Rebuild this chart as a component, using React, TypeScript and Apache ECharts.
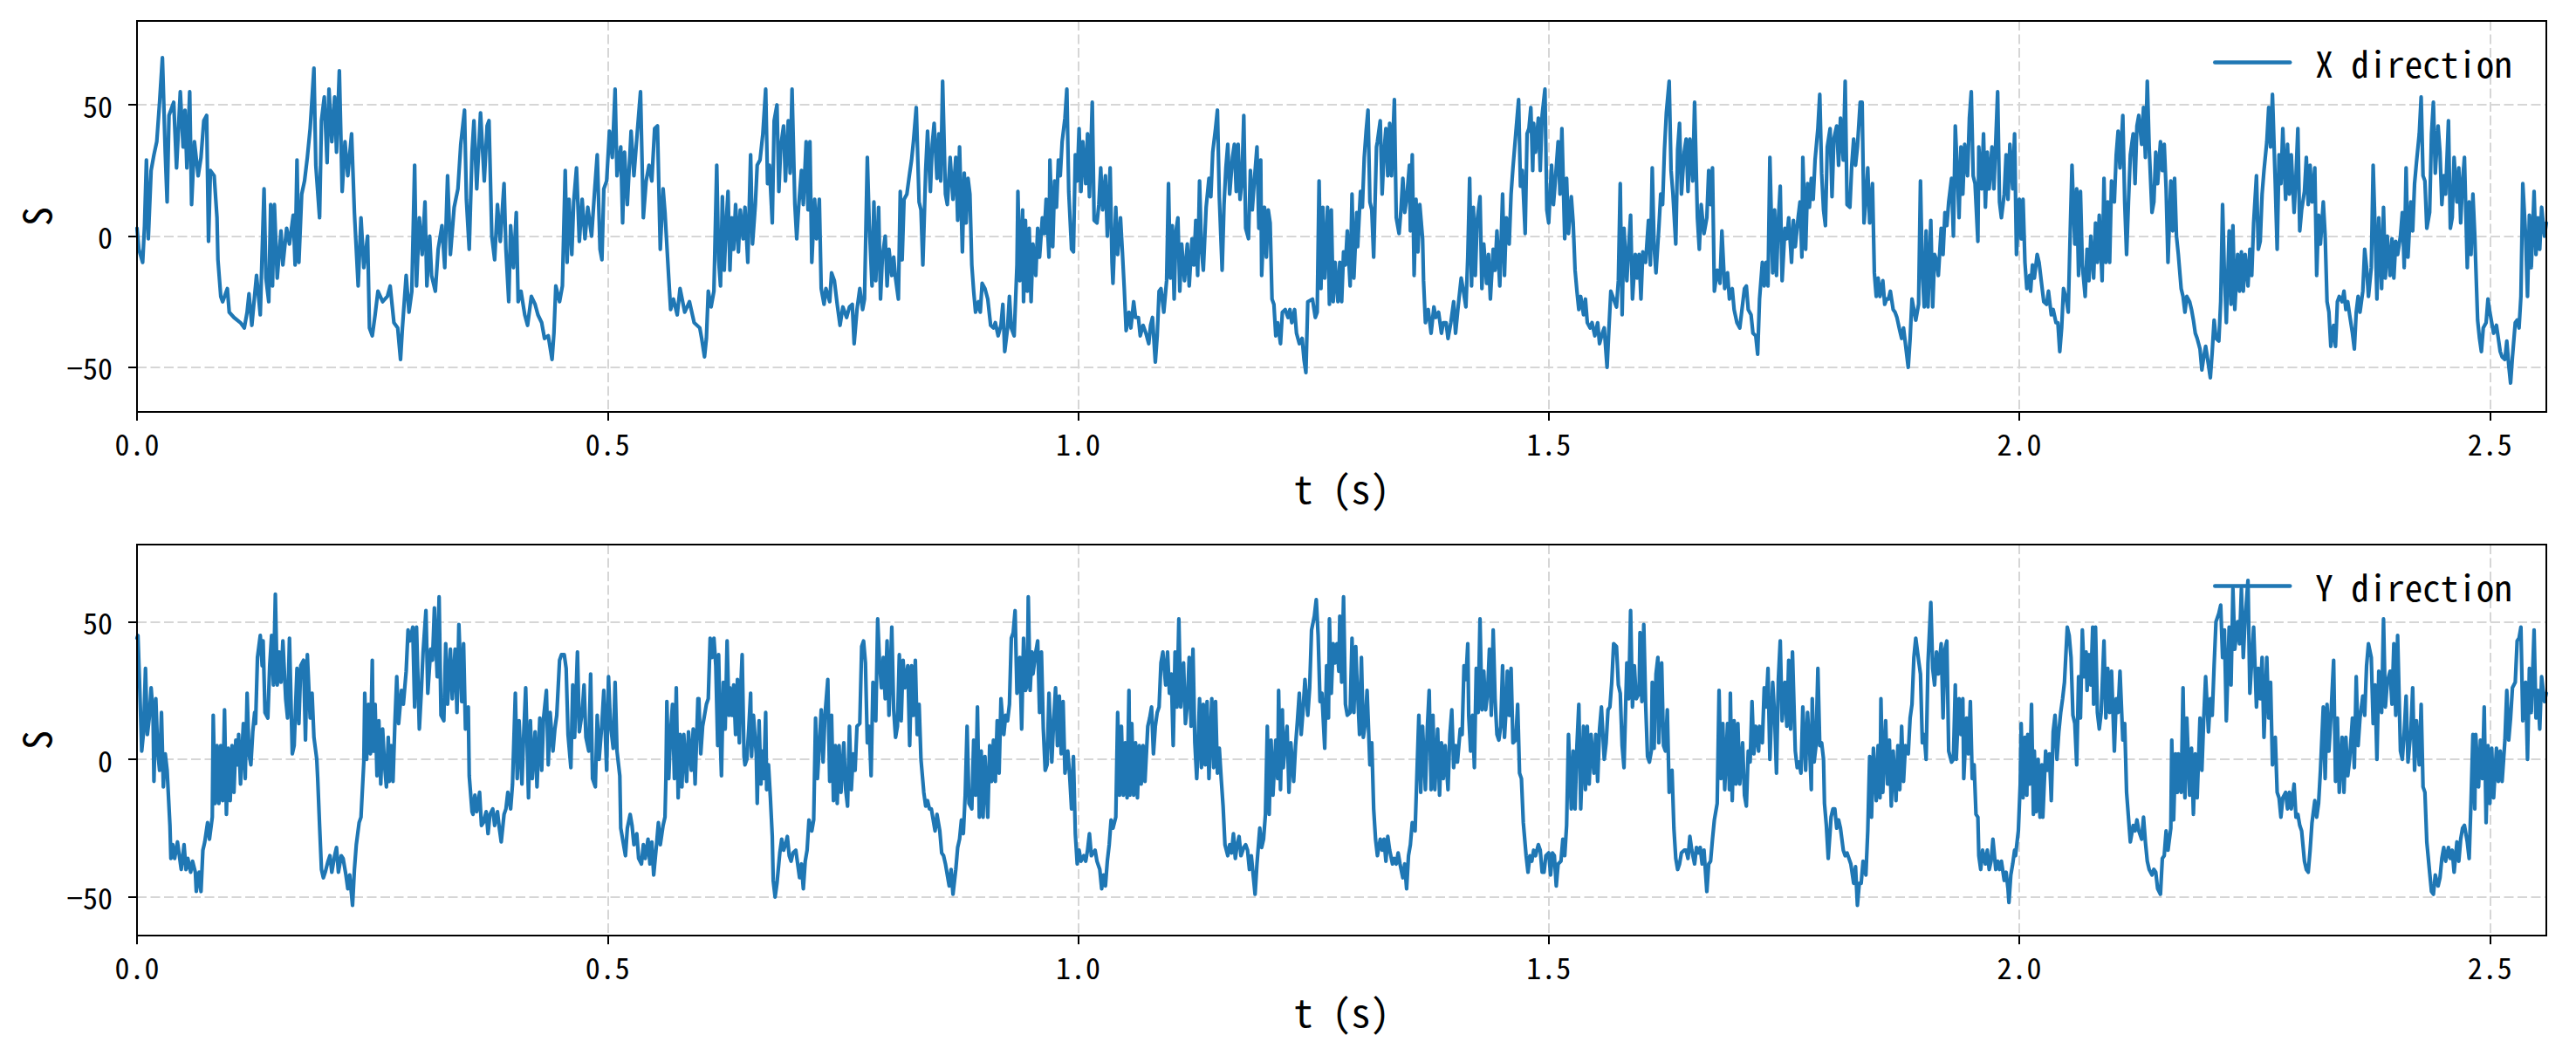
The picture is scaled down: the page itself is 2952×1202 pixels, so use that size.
import React, { useEffect, useRef } from "react";
import * as echarts from "echarts";

type P = [number, number];

// ---- axis / label content ----
const T_TICKS = [0, 0.5, 1, 1.5, 2, 2.5];
const S_TICKS = [-50, 0, 50];
const T_MAX = 2.56;
const X_RANGE = [-67, 82];
const Y_RANGE = [-64, 78];
const NAME_X = "X direction";
const NAME_Y = "Y direction";
const AXIS_T = "t (s)";
const AXIS_S = "S";

// ---- X direction signal: [t (s), S] ----
const xSeg1: P[] = [[0,3],[0.002,-5],[0.006,-10],[0.008,4],[0.010,29],[0.012,-1],[0.015,25],[0.018,31],[0.021,36],[0.024,51],[0.027,68],[0.030,32],[0.032,13],[0.034,46],[0.039,51],[0.042,26],[0.046,55],[0.049,34],[0.051,48],[0.053,26],[0.056,55],[0.058,12],[0.061,36],[0.065,23],[0.068,30],[0.071,44],[0.074,46],[0.076,-2],[0.078,25],[0.082,23],[0.085,7],[0.086,-9],[0.089,-23],[0.091,-25],[0.096,-20],[0.098,-29],[0.103,-31],[0.110,-33],[0.114,-35],[0.117,-29],[0.119,-22],[0.122,-34],[0.127,-15],[0.131,-30],[0.135,18],[0.137,-16],[0.140,-25],[0.142,12],[0.144,-19],[0.146,12],[0.149,-16],[0.153,2],[0.155,-11],[0.159,3],[0.162,-3],[0.166,8],[0.168,-11],[0.170,29],[0.172,-10],[0.175,16],[0.178,21],[0.181,30],[0.184,41],[0.188,64],[0.190,27],[0.194,7],[0.196,44],[0.199,53],[0.202,28],[0.204,56],[0.207,36],[0.210,53],[0.212,32],[0.215,63],[0.218,17],[0.221,36],[0.224,23],[0.228,39],[0.231,9],[0.235,-19],[0.238,7],[0.241,-12],[0.245,0],[0.247,-35],[0.250,-38],[0.253,-30],[0.256,-21],[0.261,-25],[0.266,-23],[0.269,-19],[0.273,-33],[0.277,-35],[0.280,-47],[0.282,-35],[0.286,-15],[0.289,-29],[0.292,-21],[0.295,27],[0.297,-19],[0.300,7],[0.303,-7],[0.306,13],[0.308,-19],[0.311,0],[0.313,-15],[0.317,-21],[0.320,-5],[0.324,4],[0.327,-12],[0.330,23],[0.333,-7],[0.337,11],[0.341,18],[0.344,35],[0.348,48],[0.350,14],[0.353,-5],[0.356,32],[0.358,44],[0.361,18],[0.365,47],[0.369,21],[0.372,42],[0.374,44],[0.377,0],[0.380,-9],[0.383,12],[0.386,-2],[0.390,20],[0.392,-5],[0.395,-25],[0.397,4],[0.400,-12],[0.403,9],[0.405,-25],[0.408,-21],[0.412,-30],[0.415,-34],[0.419,-23],[0.423,-26],[0.426,-30],[0.430,-33],[0.433,-39],[0.437,-38],[0.441,-47],[0.443,-37],[0.445,-19],[0.449,-25],[0.452,-19],[0.455,25],[0.457,-10],[0.459,14],[0.462,-7],[0.464,13],[0.467,26],[0.470,-2],[0.473,14],[0.476,-1],[0.479,11],[0.483,0],[0.486,16],[0.489,31],[0.492,-5],[0.494,-9],[0.496,18],[0.499,21],[0.502,40],[0.505,30],[0.508,56],[0.510,23],[0.514,34],[0.516,5],[0.518,32],[0.521,12],[0.525,40],[0.528,23],[0.531,37],[0.535,55],[0.538,7],[0.541,21],[0.544,27],[0.547,21],[0.550,41],[0.553,42],[0.556,-5],[0.559,18],[0.561,9],[0.565,-16],[0.567,-28],[0.570,-24],[0.574,-30],[0.577,-20],[0.582,-29],[0.587,-25],[0.592,-33]];
const xSeg2: P[] = [[0.598,-35],[0.600,-39],[0.603,-46],[0.605,-39],[0.607,-21],[0.610,-27],[0.613,-21],[0.616,27],[0.618,-9],[0.620,-19],[0.622,15],[0.624,-13],[0.626,5],[0.628,17],[0.630,-13],[0.632,7],[0.634,-5],[0.636,12],[0.639,-6],[0.641,10],[0.644,-1],[0.646,11],[0.649,-10],[0.652,31],[0.654,-3],[0.657,12],[0.659,27],[0.662,29],[0.665,39],[0.668,56],[0.670,20],[0.672,27],[0.675,5],[0.677,44],[0.680,50],[0.682,17],[0.684,34],[0.687,42],[0.689,21],[0.692,44],[0.694,24],[0.696,56],[0.699,12],[0.701,-1],[0.703,11],[0.706,25],[0.708,12],[0.711,36],[0.713,10],[0.715,36],[0.717,-10],[0.720,14],[0.722,-1],[0.725,14],[0.727,-20],[0.730,-26],[0.732,-20],[0.736,-25],[0.738,-14],[0.741,-17],[0.744,-26],[0.747,-34],[0.750,-27],[0.754,-31],[0.757,-27],[0.760,-26],[0.762,-41],[0.765,-28],[0.768,-20],[0.771,-28],[0.773,-24],[0.776,30],[0.778,5],[0.781,-19],[0.783,13],[0.785,-17],[0.788,11],[0.790,-24],[0.792,-8],[0.795,0],[0.797,-19],[0.799,-5],[0.802,-15],[0.804,-8],[0.806,-16],[0.809,-24],[0.811,17],[0.813,-9],[0.815,14],[0.818,16],[0.821,24],[0.823,29],[0.825,36],[0.828,49],[0.831,13],[0.833,10],[0.835,-11],[0.838,25],[0.840,40],[0.843,17],[0.845,35],[0.847,43],[0.850,22],[0.852,39],[0.854,21],[0.856,59],[0.859,16],[0.861,12],[0.864,30],[0.867,14],[0.870,30],[0.872,6],[0.874,34],[0.877,-6],[0.879,24],[0.881,5],[0.883,22],[0.885,16],[0.887,-11],[0.889,-21],[0.891,-29],[0.894,-25],[0.896,-29],[0.898,-18],[0.901,-20],[0.904,-24],[0.907,-34],[0.910,-35],[0.912,-33],[0.915,-38],[0.918,-34],[0.920,-26],[0.922,-44],[0.925,-35],[0.927,-23],[0.929,-35],[0.932,-38],[0.935,-11],[0.936,17],[0.938,-17],[0.941,10],[0.942,-25],[0.944,6],[0.946,-21],[0.948,3],[0.950,-25],[0.952,-3],[0.955,-15],[0.957,3],[0.959,-8],[0.962,7],[0.964,1],[0.966,14],[0.969,-8],[0.970,29],[0.973,-4],[0.975,21],[0.977,11],[0.979,29],[0.981,23],[0.983,36],[0.986,45],[0.988,56],[0.990,17],[0.993,-5],[0.995,-6],[0.997,31],[0.999,21],[1.001,41],[1.003,17],[1.005,36],[1.008,20],[1.010,39],[1.012,15],[1.015,51],[1.017,6],[1.020,5],[1.022,12],[1.024,26],[1.026,10],[1.029,23],[1.031,0],[1.034,26],[1.036,-10],[1.037,-18],[1.040,11],[1.042,-7],[1.045,7],[1.047,-6],[1.049,-20],[1.051,-36],[1.054,-29],[1.056,-35],[1.059,-25],[1.061,-31],[1.064,-31],[1.066,-38],[1.069,-34],[1.072,-37],[1.075,-41],[1.077,-34],[1.079,-31],[1.082,-48],[1.084,-38],[1.086,-21],[1.088,-20],[1.091,-29],[1.094,-17],[1.096,20],[1.098,-16],[1.100,4],[1.102,-24],[1.104,2],[1.106,7],[1.108,-21],[1.110,-3],[1.113,-17],[1.116,-3],[1.118,-19],[1.121,-1],[1.123,-11],[1.125,6],[1.127,-15],[1.129,21],[1.131,-5],[1.133,-13],[1.136,11],[1.139,22],[1.141,15],[1.143,32],[1.146,41],[1.148,48],[1.150,15],[1.153,-13],[1.155,12],[1.157,26],[1.159,35],[1.161,16],[1.164,30],[1.166,35],[1.168,17],[1.170,35],[1.172,14],[1.174,21],[1.176,46],[1.178,3],[1.181,-1],[1.183,25],[1.185,10],[1.187,20],[1.190,34],[1.192,3],[1.194,29],[1.195,-15],[1.198,11],[1.200,-8],[1.202,10],[1.204,5],[1.206,-24],[1.208,-26],[1.210,-38],[1.212,-33],[1.215,-41],[1.217,-29],[1.220,-28],[1.223,-31],[1.225,-28],[1.227,-33],[1.230,-28],[1.232,-37],[1.235,-41],[1.238,-39],[1.240,-47],[1.242,-52],[1.244,-25]];
const xSeg3: P[] = [[1.249,-24],[1.252,-31],[1.254,-29],[1.256,21],[1.258,-20],[1.260,11],[1.262,-16],[1.265,11],[1.267,-26],[1.269,10],[1.271,-25],[1.273,-10],[1.276,-25],[1.278,-10],[1.280,-25],[1.282,-6],[1.284,-11],[1.286,2],[1.289,-19],[1.291,16],[1.293,-16],[1.296,9],[1.297,-4],[1.300,17],[1.302,11],[1.304,30],[1.306,40],[1.308,48],[1.310,13],[1.312,10],[1.314,-8],[1.317,34],[1.318,36],[1.321,44],[1.323,16],[1.325,32],[1.327,41],[1.329,23],[1.331,43],[1.333,23],[1.336,52],[1.338,7],[1.341,1],[1.343,10],[1.345,22],[1.347,9],[1.349,14],[1.352,27],[1.353,2],[1.355,31],[1.357,-15],[1.359,14],[1.361,-6],[1.363,12],[1.366,-1],[1.367,-17],[1.369,-33],[1.372,-28],[1.375,-37],[1.378,-27],[1.380,-31],[1.383,-29],[1.386,-37],[1.388,-33],[1.391,-33],[1.393,-39],[1.396,-33],[1.399,-25],[1.401,-37],[1.404,-26],[1.407,-16],[1.409,-20],[1.412,-27],[1.414,-8],[1.416,22],[1.418,-19],[1.420,11],[1.422,-15],[1.424,6],[1.427,15],[1.429,-20],[1.431,-3],[1.434,-18],[1.436,-7],[1.438,-24],[1.441,-5],[1.443,-13],[1.445,2],[1.448,-19],[1.451,16],[1.453,-15],[1.455,7],[1.458,-3],[1.460,16],[1.462,26],[1.465,39],[1.468,52],[1.470,19],[1.472,25],[1.475,1],[1.477,39],[1.479,41],[1.481,49],[1.483,25],[1.484,43],[1.486,32],[1.489,45],[1.491,25],[1.493,46],[1.496,56],[1.498,10],[1.500,5],[1.503,27],[1.505,12],[1.507,21],[1.510,36],[1.512,16],[1.514,41],[1.517,-1],[1.519,22],[1.521,1],[1.524,15],[1.526,5],[1.528,-13],[1.530,-21],[1.532,-28],[1.534,-23],[1.537,-30],[1.539,-24],[1.541,-33],[1.544,-35],[1.546,-33],[1.549,-38],[1.552,-33],[1.554,-41],[1.557,-37],[1.559,-35],[1.562,-50],[1.564,-35],[1.566,-21],[1.569,-24],[1.572,-27],[1.574,-17],[1.576,20],[1.578,-30],[1.580,3],[1.583,-17],[1.585,-4],[1.587,8],[1.589,-24],[1.592,-7],[1.594,-16],[1.596,-7],[1.598,-24],[1.600,-6],[1.603,-10],[1.606,6],[1.608,-11],[1.610,26],[1.612,-4],[1.614,-14],[1.617,3],[1.619,16],[1.621,12],[1.623,33],[1.625,47],[1.628,59],[1.630,25],[1.632,16],[1.635,-3],[1.637,33],[1.639,43],[1.641,16],[1.644,32],[1.646,37],[1.648,17],[1.650,37],[1.653,21],[1.655,51],[1.658,7],[1.660,-5],[1.662,12],[1.665,1],[1.668,7],[1.670,25],[1.672,12],[1.674,26],[1.676,-21],[1.679,-13],[1.682,-18],[1.684,2],[1.687,-20],[1.690,-14],[1.692,-24],[1.695,-20],[1.697,-28],[1.700,-33],[1.703,-35],[1.705,-29],[1.708,-20],[1.710,-19],[1.712,-28],[1.715,-30],[1.717,-37],[1.720,-38],[1.722,-45],[1.724,-24],[1.727,-10],[1.729,-19],[1.731,-10],[1.733,-19],[1.735,30],[1.738,-14],[1.740,10],[1.742,-15],[1.744,6],[1.746,19],[1.748,-17],[1.751,3],[1.753,-1],[1.755,7],[1.758,-10],[1.760,6],[1.762,-4],[1.765,7],[1.767,13],[1.769,-8],[1.770,30],[1.773,-5],[1.775,20],[1.777,11],[1.779,22],[1.781,14],[1.783,29],[1.786,41],[1.788,54],[1.790,24],[1.792,10],[1.794,4],[1.796,34],[1.799,41],[1.801,15],[1.803,37],[1.806,42],[1.808,27],[1.810,45],[1.813,29],[1.815,59],[1.817,12],[1.820,11],[1.822,27],[1.824,37],[1.826,27],[1.828,34],[1.831,51],[1.833,51],[1.835,5],[1.837,14],[1.839,26],[1.841,5],[1.844,20],[1.846,-14],[1.848,-23],[1.850,-16],[1.852,-23],[1.855,-17],[1.857,-26],[1.859,-24],[1.861,-24],[1.863,-21],[1.866,-28],[1.868,-29],[1.870,-31],[1.873,-36],[1.875,-39],[1.877,-35],[1.879,-41],[1.882,-50],[1.884,-39],[1.886,-24],[1.888,-28],[1.890,-32],[1.893,-26],[1.895,21],[1.897,-14],[1.899,-27],[1.901,2],[1.903,-27],[1.906,6],[1.908,-27],[1.910,-7]];
const xSeg4: P[] = [[1.912,-9],[1.914,-15],[1.917,3],[1.919,-7],[1.921,9],[1.923,4],[1.925,13],[1.928,22],[1.930,0],[1.932,42],[1.934,26],[1.936,7],[1.938,34],[1.940,16],[1.942,35],[1.945,23],[1.947,45],[1.949,55],[1.951,23],[1.953,20],[1.956,-2],[1.957,34],[1.960,18],[1.962,39],[1.964,11],[1.966,32],[1.968,18],[1.971,34],[1.973,18],[1.975,36],[1.977,55],[1.979,13],[1.981,7],[1.984,16],[1.986,31],[1.988,14],[1.990,35],[1.993,18],[1.995,39],[1.997,-7],[2.000,14],[2.002,-1],[2.004,14],[2.006,-10],[2.008,-20],[2.011,-15],[2.012,-21],[2.014,-11],[2.016,-16],[2.019,-7],[2.021,-10],[2.024,-19],[2.026,-25],[2.029,-26],[2.031,-21],[2.034,-30],[2.036,-28],[2.039,-33],[2.041,-33],[2.043,-44],[2.045,-35],[2.047,-20],[2.050,-24],[2.052,-29],[2.054,0],[2.056,27],[2.059,-3],[2.061,18],[2.063,-15],[2.065,17],[2.067,-11],[2.070,-23],[2.072,-5],[2.074,-17],[2.076,0],[2.079,-16],[2.081,5],[2.083,-10],[2.085,8],[2.088,-17],[2.090,22],[2.092,-10],[2.094,13],[2.096,-10],[2.098,21],[2.101,13],[2.103,31],[2.105,40],[2.107,26],[2.110,46],[2.112,13],[2.114,-7],[2.116,13],[2.118,31],[2.121,39],[2.123,20],[2.125,42],[2.127,46],[2.130,35],[2.132,49],[2.134,30],[2.136,59],[2.138,34],[2.141,9],[2.143,13],[2.145,32],[2.147,20],[2.150,36],[2.152,25],[2.154,35],[2.156,18],[2.158,-10],[2.161,21],[2.163,2],[2.165,22],[2.167,0],[2.169,-7],[2.172,-20],[2.174,-23],[2.176,-29],[2.178,-23],[2.181,-25],[2.183,-28],[2.185,-32],[2.187,-37],[2.189,-39],[2.192,-43],[2.194,-51],[2.196,-46],[2.198,-42],[2.201,-49],[2.203,-54],[2.205,-44],[2.207,-32],[2.209,-39],[2.212,-40],[2.214,-25],[2.216,12],[2.218,-15],[2.220,-33],[2.223,2],[2.225,-26],[2.227,4],[2.229,-28],[2.232,-7],[2.234,-21],[2.236,-6],[2.238,-21],[2.240,-7],[2.243,-19],[2.245,-5],[2.247,-15],[2.249,5],[2.252,23],[2.254,-5],[2.256,-2],[2.258,16],[2.260,25],[2.263,36],[2.265,49],[2.267,34],[2.269,54],[2.272,20],[2.274,-5],[2.276,31],[2.278,20],[2.280,41],[2.283,14],[2.285,35],[2.287,16],[2.289,31],[2.292,9],[2.294,23],[2.296,41],[2.298,2],[2.300,10],[2.303,17],[2.305,30],[2.307,12],[2.309,27],[2.311,13],[2.314,26],[2.316,-15],[2.318,8],[2.320,-3],[2.323,13],[2.325,0],[2.327,-25],[2.329,-29],[2.331,-42],[2.334,-34],[2.336,-42],[2.338,-25],[2.340,-23],[2.343,-25],[2.345,-21],[2.347,-28],[2.349,-25],[2.351,-30],[2.354,-37],[2.356,-43],[2.358,-29],[2.360,-23],[2.362,-29],[2.365,-21],[2.367,-5],[2.369,-12],[2.371,-23],[2.374,-12],[2.376,27],[2.378,3],[2.380,-24],[2.382,7],[2.385,-20],[2.387,11],[2.389,-16],[2.391,0],[2.394,-15],[2.396,-1],[2.398,-16],[2.400,-2],[2.402,-7],[2.405,0],[2.407,9],[2.409,-12],[2.411,26],[2.413,-8],[2.416,13],[2.418,2],[2.420,20],[2.422,28],[2.425,39],[2.427,53],[2.429,23],[2.431,21],[2.433,3],[2.436,9],[2.438,39],[2.440,51],[2.442,24],[2.445,42],[2.447,32],[2.449,12],[2.451,23],[2.453,16],[2.456,44],[2.458,3],[2.460,7],[2.462,30],[2.465,13],[2.467,26],[2.469,5],[2.471,21],[2.473,30],[2.476,-12],[2.478,13],[2.480,-7],[2.482,16],[2.484,0],[2.487,-32],[2.489,-39],[2.491,-44],[2.493,-35],[2.496,-33],[2.498,-24],[2.500,-29],[2.502,-33],[2.504,-37],[2.507,-34],[2.509,-39],[2.511,-44],[2.513,-46],[2.516,-47],[2.518,-40],[2.520,-49],[2.522,-56],[2.524,-46],[2.527,-33],[2.529,-32],[2.531,-35],[2.533,-23],[2.535,20],[2.538,0],[2.540,-23],[2.542,8],[2.544,-12],[2.547,17],[2.549,-7],[2.551,7],[2.553,-5],[2.555,11],[2.558,0],[2.56,5]];

// ---- Y direction signal: [t (s), S] ----
const ySeg1: P[] = [[0,44],[0.001,45],[0.003,25],[0.005,3],[0.007,10],[0.009,33],[0.011,9],[0.013,15],[0.015,26],[0.017,17],[0.018,-8],[0.020,22],[0.022,3],[0.024,-4],[0.026,17],[0.028,-10],[0.030,2],[0.032,-4],[0.035,-24],[0.036,-36],[0.038,-31],[0.040,-36],[0.043,-30],[0.045,-35],[0.047,-40],[0.050,-31],[0.052,-40],[0.054,-36],[0.057,-41],[0.059,-37],[0.062,-41],[0.063,-48],[0.066,-41],[0.068,-48],[0.070,-33],[0.072,-30],[0.075,-23],[0.077,-29],[0.080,-21],[0.081,16],[0.083,-16],[0.085,5],[0.087,-16],[0.089,5],[0.091,-15],[0.093,18],[0.095,-20],[0.097,4],[0.099,-15],[0.101,5],[0.103,-12],[0.105,7],[0.107,-2],[0.108,9],[0.110,-9],[0.113,13],[0.115,-7],[0.117,24],[0.119,2],[0.121,-2],[0.123,10],[0.125,17],[0.126,13],[0.128,37],[0.131,45],[0.133,34],[0.134,43],[0.136,17],[0.139,15],[0.141,34],[0.143,45],[0.145,27],[0.147,60],[0.149,27],[0.151,39],[0.153,28],[0.155,43],[0.158,22],[0.160,15],[0.162,44],[0.165,2],[0.167,5],[0.170,33],[0.172,13],[0.174,34],[0.177,36],[0.179,7],[0.181,38],[0.184,15],[0.186,24],[0.188,8],[0.191,0],[0.192,-7],[0.194,-24],[0.196,-40],[0.198,-43],[0.200,-41],[0.203,-37],[0.205,-35],[0.207,-41],[0.210,-35],[0.212,-32],[0.214,-41],[0.217,-35],[0.219,-36],[0.222,-42],[0.224,-47],[0.226,-42],[0.229,-53],[0.231,-40],[0.233,-31],[0.236,-23],[0.238,-21],[0.241,-1],[0.242,24],[0.244,0],[0.246,20],[0.248,2],[0.250,36],[0.251,3],[0.253,20],[0.255,-6],[0.257,14],[0.259,-9],[0.261,11],[0.263,-2],[0.265,-10],[0.267,8],[0.268,-8],[0.270,5],[0.272,-8],[0.274,13],[0.276,30],[0.278,13],[0.281,25],[0.283,20],[0.286,32],[0.288,47],[0.290,43],[0.293,48],[0.295,19],[0.297,48],[0.300,11],[0.302,24],[0.304,39],[0.307,54],[0.309,24],[0.312,40],[0.314,36],[0.316,55],[0.319,30],[0.321,59],[0.323,16],[0.326,14],[0.328,42],[0.330,20],[0.333,40],[0.335,22],[0.338,40],[0.340,17],[0.342,49],[0.345,21],[0.347,42],[0.349,11],[0.352,19],[0.353,-6],[0.356,-19],[0.357,-20],[0.359,-13],[0.361,-19],[0.364,-12],[0.366,-24],[0.368,-23],[0.371,-19],[0.373,-27],[0.375,-20],[0.378,-18],[0.380,-24],[0.383,-19],[0.385,-25],[0.387,-30],[0.390,-20],[0.392,-18],[0.394,-12],[0.397,-18],[0.399,-9],[0.402,24],[0.404,-7],[0.406,14],[0.409,-9],[0.411,10],[0.413,26],[0.416,-14],[0.418,14],[0.420,-7],[0.423,10],[0.425,-10],[0.428,15],[0.430,-4],[0.432,15],[0.435,25],[0.437,-2],[0.439,17],[0.442,3],[0.444,11],[0.446,16],[0.449,36],[0.451,38],[0.454,38],[0.456,33],[0.458,9],[0.461,-3],[0.463,27],[0.465,8],[0.468,39],[0.470,10],[0.473,17],[0.475,27],[0.477,8],[0.480,3],[0.482,31],[0.484,-7],[0.487,-10],[0.489,16],[0.491,0],[0.494,13],[0.496,25],[0.499,-4],[0.501,30],[0.503,13],[0.506,4],[0.508,28],[0.510,3],[0.513,-6],[0.514,-25],[0.517,-31],[0.519,-35],[0.521,-25],[0.524,-20],[0.526,-24],[0.528,-31],[0.531,-27],[0.533,-36],[0.536,-38],[0.538,-31],[0.540,-36],[0.543,-29],[0.545,-38],[0.547,-30],[0.549,-42],[0.552,-31],[0.554,-23],[0.556,-31],[0.559,-24],[0.561,-21],[0.562,-7],[0.563,21],[0.565,-7],[0.567,10],[0.569,20],[0.571,-7],[0.573,26],[0.575,-14],[0.577,9],[0.579,-10],[0.581,9],[0.584,-8],[0.586,10],[0.589,-4],[0.591,11],[0.593,-9],[0.596,22]];
const ySeg2: P[] = [[0.597,22],[0.599,2],[0.601,12],[0.603,16],[0.605,20],[0.607,22],[0.609,44],[0.611,37],[0.613,44],[0.615,34],[0.617,5],[0.618,38],[0.620,5],[0.621,-6],[0.623,28],[0.625,11],[0.627,43],[0.629,16],[0.630,26],[0.632,16],[0.634,27],[0.636,9],[0.638,29],[0.640,6],[0.641,22],[0.643,38],[0.645,1],[0.646,-2],[0.648,0],[0.650,11],[0.652,24],[0.653,1],[0.655,16],[0.658,2],[0.659,-16],[0.661,14],[0.663,-9],[0.664,3],[0.666,-7],[0.668,17],[0.669,-11],[0.671,-2],[0.673,-14],[0.675,-28],[0.676,-44],[0.678,-50],[0.680,-45],[0.683,-34],[0.685,-29],[0.687,-33],[0.689,-31],[0.691,-28],[0.693,-35],[0.695,-37],[0.697,-34],[0.700,-33],[0.702,-38],[0.704,-43],[0.706,-38],[0.708,-47],[0.710,-37],[0.712,-33],[0.714,-22],[0.717,-26],[0.719,-22],[0.721,15],[0.723,-7],[0.725,5],[0.727,18],[0.729,-1],[0.731,16],[0.734,29],[0.736,-8],[0.738,16],[0.740,-15],[0.742,5],[0.744,-16],[0.746,5],[0.748,-12],[0.751,6],[0.753,-11],[0.755,-17],[0.757,12],[0.759,-11],[0.761,2],[0.763,-4],[0.765,12],[0.768,13],[0.770,41],[0.772,43],[0.774,35],[0.776,6],[0.778,12],[0.780,-6],[0.782,28],[0.785,14],[0.787,51],[0.789,35],[0.791,26],[0.793,37],[0.795,22],[0.797,43],[0.799,16],[0.802,48],[0.804,18],[0.806,8],[0.808,12],[0.810,38],[0.812,14],[0.814,36],[0.816,26],[0.819,34],[0.821,5],[0.823,34],[0.825,16],[0.827,36],[0.829,9],[0.831,20],[0.833,0],[0.836,-12],[0.838,-17],[0.840,-15],[0.842,-18],[0.844,-18],[0.846,-22],[0.848,-26],[0.850,-20],[0.853,-26],[0.855,-34],[0.857,-35],[0.859,-38],[0.861,-42],[0.863,-46],[0.865,-40],[0.867,-49],[0.870,-40],[0.872,-32],[0.874,-29],[0.876,-22],[0.878,-27],[0.880,-13],[0.882,12],[0.884,-16],[0.887,-18],[0.889,7],[0.891,-13],[0.893,19],[0.895,-21],[0.897,3],[0.899,-21],[0.901,1],[0.904,-21],[0.906,5],[0.908,-8],[0.910,7],[0.912,-8],[0.914,14],[0.916,-5],[0.918,22],[0.921,9],[0.923,16],[0.925,14],[0.927,20],[0.929,44],[0.931,46],[0.933,54],[0.935,24],[0.938,37],[0.940,11],[0.942,44],[0.944,25],[0.946,27],[0.947,59],[0.949,25],[0.951,39],[0.952,31],[0.955,39],[0.957,43],[0.959,17],[0.961,39],[0.963,11],[0.965,-4],[0.967,-2],[0.969,24],[0.972,-1],[0.974,14],[0.976,26],[0.978,5],[0.980,23],[0.982,2],[0.984,21],[0.986,-5],[0.989,3],[0.991,-6],[0.993,-18],[0.995,1],[0.997,-27],[0.999,-38],[1.001,-33],[1.003,-37],[1.006,-35],[1.008,-37],[1.010,-33],[1.012,-27],[1.014,-35],[1.016,-34],[1.018,-33],[1.020,-37],[1.023,-40],[1.025,-47],[1.027,-42],[1.029,-46],[1.031,-37],[1.033,-31],[1.035,-22],[1.037,-25],[1.040,-21],[1.042,17],[1.044,-13],[1.046,12],[1.048,-13],[1.050,6],[1.052,-14],[1.054,25],[1.055,-13],[1.057,13],[1.059,-13],[1.061,6],[1.063,-14],[1.065,5],[1.067,-9],[1.069,5],[1.071,-8],[1.074,12],[1.076,15],[1.078,19],[1.080,2],[1.082,12],[1.084,17],[1.086,19],[1.088,35],[1.090,39],[1.093,27],[1.095,39],[1.097,24],[1.099,31],[1.101,5],[1.103,39],[1.105,19],[1.107,51],[1.109,19],[1.110,25],[1.112,35],[1.114,13],[1.116,20],[1.118,37],[1.120,12],[1.122,40],[1.124,6],[1.126,-7],[1.127,1],[1.129,22],[1.131,-3],[1.133,20],[1.135,-2],[1.137,21],[1.139,-7],[1.142,22],[1.144,-3],[1.146,21],[1.148,-5],[1.150,4],[1.152,-7],[1.154,-17],[1.156,-31],[1.159,-35],[1.161,-31],[1.163,-34],[1.165,-27],[1.167,-36],[1.169,-31],[1.171,-28],[1.173,-35],[1.176,-32],[1.178,-31],[1.180,-33],[1.182,-40],[1.184,-35],[1.186,-42],[1.188,-49],[1.190,-38],[1.193,-25],[1.195,-32],[1.197,-29],[1.199,-20],[1.201,12],[1.203,-20],[1.205,7],[1.207,-13],[1.210,7],[1.212,-7],[1.213,25],[1.215,-11],[1.217,18],[1.218,-3],[1.220,6],[1.222,12],[1.224,-12],[1.226,6],[1.229,-8],[1.231,5],[1.233,14],[1.235,24],[1.237,9],[1.239,18],[1.241,29],[1.244,16]];
const ySeg3: P[] = [[1.246,26],[1.248,47],[1.251,52],[1.253,58],[1.255,45],[1.257,21],[1.259,24],[1.262,4],[1.264,34],[1.266,15],[1.267,51],[1.269,24],[1.271,42],[1.273,35],[1.275,42],[1.277,32],[1.278,52],[1.280,28],[1.282,59],[1.284,20],[1.286,16],[1.289,17],[1.291,44],[1.293,17],[1.295,41],[1.296,31],[1.299,9],[1.301,37],[1.303,8],[1.305,13],[1.307,25],[1.310,-2],[1.312,6],[1.314,-18],[1.316,-29],[1.318,-35],[1.321,-29],[1.323,-33],[1.325,-29],[1.327,-37],[1.329,-28],[1.331,-33],[1.334,-38],[1.336,-36],[1.338,-38],[1.340,-34],[1.342,-38],[1.345,-43],[1.347,-38],[1.349,-47],[1.351,-35],[1.353,-31],[1.355,-23],[1.358,-26],[1.360,-5],[1.362,16],[1.364,-12],[1.366,12],[1.369,-11],[1.371,11],[1.373,25],[1.375,-11],[1.377,16],[1.379,-11],[1.382,11],[1.384,-13],[1.386,6],[1.388,-7],[1.390,5],[1.393,-11],[1.395,9],[1.397,18],[1.399,-3],[1.401,5],[1.403,-1],[1.406,11],[1.408,9],[1.410,34],[1.412,29],[1.414,42],[1.415,16],[1.417,3],[1.419,16],[1.421,-3],[1.423,33],[1.425,17],[1.427,51],[1.429,18],[1.431,32],[1.433,18],[1.435,24],[1.437,40],[1.439,16],[1.441,47],[1.443,22],[1.445,9],[1.447,7],[1.449,12],[1.451,34],[1.453,8],[1.455,20],[1.456,32],[1.458,16],[1.460,33],[1.462,6],[1.465,7],[1.467,20],[1.469,-5],[1.471,-7],[1.473,-23],[1.476,-35],[1.478,-41],[1.480,-35],[1.482,-37],[1.484,-33],[1.486,-35],[1.489,-31],[1.491,-33],[1.493,-41],[1.495,-41],[1.497,-35],[1.500,-34],[1.502,-42],[1.504,-34],[1.506,-35],[1.508,-46],[1.510,-38],[1.513,-37],[1.515,-29],[1.517,-35],[1.519,-24],[1.521,9],[1.524,-18],[1.526,3],[1.528,-18],[1.530,5],[1.532,20],[1.534,-18],[1.537,12],[1.539,-11],[1.541,12],[1.543,-9],[1.545,9],[1.548,-5],[1.550,9],[1.552,-8],[1.554,11],[1.556,19],[1.559,0],[1.561,6],[1.563,18],[1.565,19],[1.567,28],[1.569,42],[1.572,41],[1.574,27],[1.576,24],[1.578,5],[1.580,-3],[1.583,35],[1.585,22],[1.587,54],[1.589,19],[1.591,34],[1.593,22],[1.596,24],[1.597,46],[1.599,21],[1.601,49],[1.603,20],[1.605,1],[1.607,-1],[1.609,3],[1.610,28],[1.612,4],[1.614,31],[1.616,37],[1.617,6],[1.620,35],[1.622,5],[1.624,3],[1.626,18],[1.628,-12],[1.631,-4],[1.633,-25],[1.635,-36],[1.637,-40],[1.639,-38],[1.641,-34],[1.644,-33],[1.646,-33],[1.648,-36],[1.650,-28],[1.652,-33],[1.655,-38],[1.657,-32],[1.659,-34],[1.661,-32],[1.663,-38],[1.665,-33],[1.668,-48],[1.670,-38],[1.672,-37],[1.674,-29],[1.676,-22],[1.679,-16],[1.681,25],[1.683,-7],[1.685,13],[1.687,-11],[1.690,13],[1.692,-11],[1.693,24],[1.695,-15],[1.697,14],[1.699,-9],[1.701,13],[1.703,-9],[1.706,6],[1.708,-13],[1.710,-17],[1.712,3],[1.714,-1],[1.716,21],[1.718,2],[1.720,12],[1.723,3],[1.724,12],[1.727,6],[1.729,26],[1.731,19],[1.733,33],[1.735,0],[1.738,28],[1.740,16],[1.742,-5],[1.744,29],[1.746,43],[1.748,14],[1.751,28],[1.753,12],[1.755,36],[1.757,11],[1.759,39],[1.762,3],[1.764,-3],[1.766,-1],[1.768,-5],[1.770,19],[1.773,-4],[1.775,17],[1.777,6],[1.779,-11],[1.780,22],[1.782,-1],[1.784,5],[1.786,33],[1.788,5],[1.790,6],[1.792,0],[1.793,-16],[1.795,-24],[1.797,-36],[1.800,-21],[1.802,-18],[1.804,-18],[1.806,-25],[1.808,-22],[1.810,-25],[1.813,-33],[1.815,-35],[1.817,-34],[1.819,-36],[1.821,-38],[1.824,-45],[1.826,-39],[1.828,-53],[1.830,-45],[1.832,-45],[1.834,-37],[1.837,-42],[1.839,-26],[1.841,1],[1.843,-21],[1.845,4],[1.848,-15],[1.850,5],[1.852,-14],[1.853,22],[1.855,-12],[1.858,14],[1.860,-9],[1.862,7],[1.864,-17],[1.866,3],[1.869,-15],[1.871,5],[1.873,-11],[1.875,12],[1.877,-8],[1.879,5],[1.882,2],[1.884,15],[1.886,20],[1.888,37],[1.890,44],[1.893,36],[1.895,31],[1.897,6],[1.899,9],[1.901,0],[1.903,35],[1.906,57],[1.908,33],[1.910,27]];
const ySeg4: P[] = [[1.912,39],[1.914,31],[1.917,42],[1.919,15],[1.921,40],[1.923,43],[1.925,3],[1.928,-1],[1.930,0],[1.932,27],[1.933,0],[1.936,22],[1.938,9],[1.940,22],[1.941,-7],[1.944,15],[1.946,2],[1.948,21],[1.950,-7],[1.952,-2],[1.954,-20],[1.956,-21],[1.957,-35],[1.959,-40],[1.961,-33],[1.964,-38],[1.966,-33],[1.968,-40],[1.970,-37],[1.972,-29],[1.975,-40],[1.977,-37],[1.979,-40],[1.981,-37],[1.984,-44],[1.986,-41],[1.988,-47],[1.989,-52],[1.991,-42],[1.993,-38],[1.995,-33],[1.996,-35],[1.999,-26],[2.001,-9],[2.002,13],[2.004,-14],[2.006,8],[2.008,-13],[2.009,9],[2.011,-9],[2.013,20],[2.015,-20],[2.016,3],[2.018,-19],[2.020,0],[2.022,-21],[2.024,-2],[2.025,-21],[2.028,3],[2.030,-4],[2.032,2],[2.034,-15],[2.036,10],[2.038,16],[2.040,0],[2.042,10],[2.044,17],[2.046,22],[2.048,28],[2.051,48],[2.053,45],[2.055,37],[2.057,16],[2.059,13],[2.061,-2],[2.063,30],[2.065,15],[2.067,47],[2.069,30],[2.071,39],[2.072,25],[2.074,38],[2.076,27],[2.078,48],[2.079,20],[2.081,48],[2.083,17],[2.085,11],[2.087,17],[2.090,43],[2.092,15],[2.094,33],[2.096,17],[2.098,32],[2.101,3],[2.103,22],[2.105,17],[2.107,32],[2.110,7],[2.112,13],[2.114,-12],[2.116,-21],[2.118,-30],[2.121,-24],[2.123,-26],[2.125,-22],[2.127,-26],[2.130,-29],[2.132,-21],[2.134,-30],[2.136,-37],[2.138,-40],[2.141,-42],[2.143,-40],[2.145,-41],[2.147,-47],[2.150,-49],[2.152,-36],[2.154,-35],[2.156,-26],[2.158,-33],[2.161,-25],[2.162,7],[2.164,-22],[2.166,2],[2.168,-12],[2.169,2],[2.172,-12],[2.174,26],[2.176,-14],[2.178,15],[2.181,-13],[2.183,4],[2.185,-20],[2.187,2],[2.189,-14],[2.192,15],[2.194,-4],[2.196,15],[2.198,30],[2.201,10],[2.203,22],[2.205,16],[2.207,34],[2.209,50],[2.212,53],[2.214,56],[2.216,37],[2.218,47],[2.220,14],[2.223,48],[2.225,27],[2.227,62],[2.229,40],[2.232,50],[2.234,42],[2.236,62],[2.238,37],[2.240,51],[2.243,65],[2.245,24],[2.247,36],[2.249,48],[2.252,19],[2.254,33],[2.256,22],[2.258,37],[2.260,8],[2.263,37],[2.265,15],[2.267,28],[2.269,-2],[2.272,8],[2.274,-12],[2.276,-14],[2.278,-21],[2.280,-14],[2.283,-12],[2.285,-18],[2.287,-12],[2.289,-18],[2.292,-9],[2.294,-21],[2.296,-20],[2.298,-24],[2.300,-26],[2.303,-37],[2.305,-40],[2.307,-41],[2.309,-33],[2.311,-23],[2.314,-15],[2.316,-21],[2.318,-16],[2.320,-4],[2.323,19],[2.325,-7],[2.327,20],[2.329,3],[2.331,15],[2.334,36],[2.336,-8],[2.338,15],[2.340,-12],[2.343,8],[2.345,-12],[2.347,8],[2.349,-6],[2.351,0],[2.354,15],[2.356,-3],[2.358,30],[2.360,5],[2.362,15],[2.365,23],[2.367,16],[2.369,34],[2.371,42],[2.374,37],[2.376,13],[2.378,27],[2.380,0],[2.382,32],[2.385,17],[2.387,51],[2.389,19],[2.391,28],[2.394,32],[2.396,20],[2.398,42],[2.400,16],[2.402,45],[2.405,3],[2.407,0],[2.409,10],[2.411,23],[2.413,-1],[2.416,10],[2.418,26],[2.420,-4],[2.422,14],[2.425,-2],[2.427,20],[2.429,-10],[2.431,-12],[2.433,-30],[2.436,-41],[2.438,-48],[2.440,-49],[2.442,-42],[2.445,-46],[2.447,-43],[2.449,-36],[2.451,-32],[2.453,-37],[2.456,-32],[2.458,-36],[2.460,-33],[2.462,-41],[2.465,-30],[2.467,-37],[2.469,-29],[2.471,-25],[2.473,-24],[2.476,-30],[2.478,-36],[2.480,-15],[2.482,9],[2.484,-18],[2.485,9],[2.488,-10],[2.490,7],[2.492,-7],[2.494,19],[2.496,-23],[2.498,5],[2.500,-16],[2.502,4],[2.504,-14],[2.507,4],[2.509,-8],[2.511,3],[2.513,-8],[2.516,7],[2.518,25],[2.520,7],[2.522,15],[2.524,26],[2.527,28],[2.529,43],[2.531,44],[2.533,48],[2.535,14],[2.538,28],[2.540,0],[2.542,33],[2.544,17],[2.547,47],[2.549,15],[2.551,25],[2.553,11],[2.555,30],[2.558,21],[2.56,24]];

const xDirection: P[] = [...xSeg1, ...xSeg2, ...xSeg3, ...xSeg4];
const yDirection: P[] = [...ySeg1, ...ySeg2, ...ySeg3, ...ySeg4];

// ---- styling ----
const FONT = "'Noto Sans Mono CJK SC', 'DejaVu Sans Mono', monospace";
const BLUE = "#1f77b4";
const GRID_COLOR = "#d6d6d6";

function buildOption(): echarts.EChartsOption {
  const gridBase = {
    left: 157,
    width: 2761,
    height: 448,
    show: true,
    borderColor: "#000",
    borderWidth: 2,
    backgroundColor: "transparent",
    containLabel: false,
    outerBoundsMode: "none",
    z: 10,
  } as any;

  const splitLine = {
    show: true,
    lineStyle: { color: GRID_COLOR, width: 2, type: [11, 4.5] },
  } as any;

  const tickStyle = { color: "#000", width: 2 };
  const labelFont = { fontFamily: FONT, fontSize: 34, color: "#000" };
  const nameFont = { fontFamily: FONT, fontSize: 44, color: "#000" };

  const xAxis = (gridIndex: number) =>
    ({
      type: "value",
      gridIndex,
      min: 0,
      max: T_MAX,
      interval: 0.5,
      name: AXIS_T,
      nameLocation: "middle",
      nameGap: 64,
      nameTextStyle: nameFont,
      axisLine: { show: false, onZero: false },
      axisTick: { show: true, length: 10, lineStyle: tickStyle, customValues: T_TICKS },
      axisLabel: {
        show: true,
        customValues: T_TICKS,
        margin: 18,
        formatter: (v: number) => v.toFixed(1),
        ...labelFont,
      },
      splitLine,
    }) as any;

  const yAxis = (gridIndex: number, range: number[]) =>
    ({
      type: "value",
      gridIndex,
      min: range[0],
      max: range[1],
      splitNumber: 3,
      name: AXIS_S,
      nameLocation: "middle",
      nameGap: 95,
      nameTextStyle: nameFont,
      axisLine: { show: false, onZero: false },
      axisTick: { show: true, length: 10, lineStyle: tickStyle, customValues: S_TICKS },
      axisLabel: {
        show: true,
        customValues: S_TICKS,
        margin: 28,
        formatter: (v: number) => (v < 0 ? "\u2212" + Math.abs(v) : String(v)),
        ...labelFont,
      },
      splitLine,
    }) as any;

  const legend = (name: string, top: number) =>
    ({
      data: [name],
      left: 2536,
      top,
      padding: 0,
      itemWidth: 86,
      itemHeight: 14,
      selectedMode: false,
      itemStyle: { opacity: 0, borderWidth: 0 },
      lineStyle: { width: 4.5, color: BLUE },
      textStyle: { fontFamily: FONT, fontSize: 41, color: "#000", padding: [0, 0, 0, 24] },
    }) as any;

  const line = (name: string, idx: number, data: P[]) =>
    ({
      type: "line",
      name,
      xAxisIndex: idx,
      yAxisIndex: idx,
      data,
      symbol: "none",
      showSymbol: false,
      clip: true,
      z: 2,
      lineStyle: { color: BLUE, width: 4.2, join: "round", cap: "round" },
      itemStyle: { color: BLUE },
      emphasis: { disabled: true },
    }) as any;

  return {
    animation: false,
    backgroundColor: "#fff",
    grid: [
      { ...gridBase, top: 24 },
      { ...gridBase, top: 624 },
    ],
    xAxis: [xAxis(0), xAxis(1)],
    yAxis: [yAxis(0, X_RANGE), yAxis(1, Y_RANGE)],
    legend: [legend(NAME_X, 51), legend(NAME_Y, 651)],
    series: [line(NAME_X, 0, xDirection), line(NAME_Y, 1, yDirection)],
  } as any;
}

export default function App() {
  const ref = useRef<HTMLDivElement>(null);
  useEffect(() => {
    document.body.style.margin = "0";
    document.body.style.overflow = "hidden";
    if (!ref.current) return;
    const chart = echarts.init(ref.current, undefined, { renderer: "svg" });
    chart.setOption(buildOption());
    return () => chart.dispose();
  }, []);
  return <div ref={ref} style={{ width: 2952, height: 1202 }} />;
}
